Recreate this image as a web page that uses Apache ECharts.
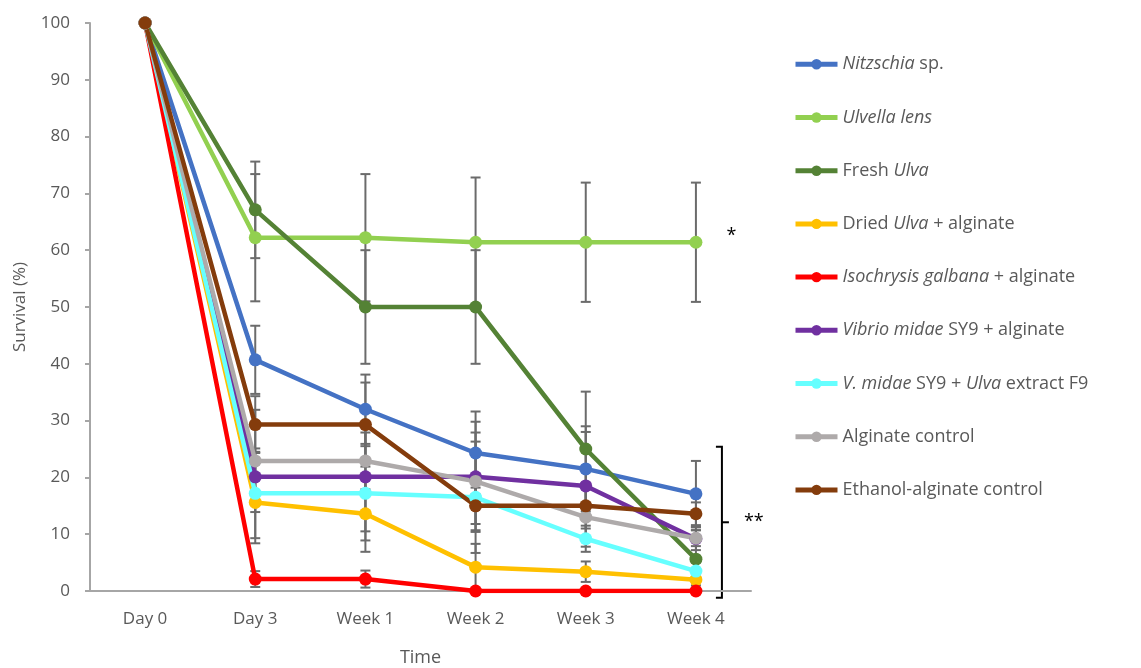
<!DOCTYPE html>
<html>
<head>
<meta charset="utf-8">
<script src="https://cdn.jsdelivr.net/npm/echarts@6/dist/echarts.min.js"></script>
<style>
  html, body { margin: 0; padding: 0; background: #fff; }
  #chart { width: 1141px; height: 668px; }
</style>
</head>
<body>
<div id="chart"></div>
<script>
// Sampling points
const timePoints = ['Day 0', 'Day 3', 'Week 1', 'Week 2', 'Week 3', 'Week 4'];

// Mean survival (%) per treatment
const nitzschia  = [100, 40.7, 32.0, 24.3, 21.5, 17.1];
const ulvella    = [100, 62.2, 62.2, 61.4, 61.4, 61.4];
const freshUlva  = [100, 67.1, 50.0, 50.0, 25.0, 5.6];
const driedUlva  = [100, 15.6, 13.6, 4.2, 3.4, 2.0];
const isochrysis = [100, 2.1, 2.1, 0, 0, 0];
const vibrio     = [100, 20.1, 20.1, 20.1, 18.5, 9.2];
const extractF9  = [100, 17.2, 17.2, 16.5, 9.2, 3.5];
const alginate   = [100, 22.9, 22.9, 19.3, 13.0, 9.3];
const ethanolAlg = [100, 29.3, 29.3, 15.0, 15.0, 13.6];

// Error magnitudes (± SE); null = no bar
const errNitzschia  = [null, 6.0, 6.1, 7.3, 7.5, 5.8];
const errUlvella    = [null, 11.2, 11.2, 11.4, 10.5, 10.5];
const errFreshUlva  = [null, 8.5, 10.0, 10.0, 10.1, 5.1];
const errDriedUlva  = [null, 7.2, 6.7, 4.1, 1.8, 1.0];
const errIsochrysis = [null, 1.4, 1.5, null, null, null];
const errVibrio     = [null, 4.4, 9.6, 9.7, 9.5, 2.0];
const errExtractF9  = [null, 7.9, 8.3, 9.8, 2.3, 1.5];
const errAlginate   = [null, 9.0, 5.0, 8.6, 5.2, 1.4];
const errEthanolAlg = [null, 5.0, 7.4, 3.2, 4.0, 2.0];

// Significance annotations
const singleMark = '*';
const groupMark = '**';
const groupRange = [25.4, -1.2];

const treatments = [
  { name: 'Nitzschia sp.',                  label: '{i|Nitzschia} sp.',                    color: '#4472C4', data: nitzschia,  err: errNitzschia },
  { name: 'Ulvella lens',                   label: '{i|Ulvella lens}',                     color: '#92D050', data: ulvella,    err: errUlvella },
  { name: 'Fresh Ulva',                     label: 'Fresh {i|Ulva}',                       color: '#548235', data: freshUlva,  err: errFreshUlva },
  { name: 'Dried Ulva + alginate',          label: 'Dried {i|Ulva} + alginate',            color: '#FFC000', data: driedUlva,  err: errDriedUlva },
  { name: 'Isochrysis galbana + alginate',  label: '{i|Isochrysis galbana} + alginate',    color: '#FF0000', data: isochrysis, err: errIsochrysis },
  { name: 'Vibrio midae SY9 + alginate',    label: '{i|Vibrio midae} SY9 + alginate',      color: '#7030A0', data: vibrio,     err: errVibrio },
  { name: 'V. midae SY9 + Ulva extract F9', label: '{i|V. midae} SY9 + {i|Ulva} extract F9', color: '#66FFFF', data: extractF9,  err: errExtractF9 },
  { name: 'Alginate control',               label: 'Alginate control',                     color: '#AEAAAA', data: alginate,   err: errAlginate },
  { name: 'Ethanol-alginate control',       label: 'Ethanol-alginate control',             color: '#843C0C', data: ethanolAlg, err: errEthanolAlg }
];

const labelByName = {};
treatments.forEach(t => { labelByName[t.name] = t.label; });

const textGrey = '#595959';
const axisGrey = '#A6A6A6';
const fontFam = '"Open Sans", "Liberation Sans", sans-serif';

// Rows for the error-bar series: [category index, mean, error]
const errorRows = [];
treatments.forEach(t => {
  t.err.forEach((e, i) => {
    if (e != null && e > 0) errorRows.push([i, t.data[i], e]);
  });
});

const lineSeries = treatments.map(t => ({
  name: t.name,
  type: 'line',
  data: t.data.map((v, i) => {
    if (t.name === 'Ulvella lens' && i === t.data.length - 1) {
      return {
        value: v,
        label: {
          show: true, formatter: singleMark, position: 'right', distance: 24,
          offset: [0, -6], color: '#000', fontSize: 18, fontFamily: fontFam
        }
      };
    }
    return v;
  }),
  color: t.color,
  symbol: 'circle',
  symbolSize: 13,
  lineStyle: { width: 4.5, color: t.color },
  itemStyle: { color: t.color },
  z: 3,
  animation: false
}));

const errorSeries = {
  name: 'SE',
  type: 'custom',
  data: errorRows,
  encode: { x: 0, y: 1 },
  z: 2,
  silent: true,
  animation: false,
  renderItem: function (params, api) {
    const xi = api.value(0), m = api.value(1), e = api.value(2);
    const top = api.coord([xi, m + e]);
    const bot = api.coord([xi, m - e]);
    const hw = 5;
    const st = { stroke: '#6B6B6B', lineWidth: 2 };
    return {
      type: 'group',
      children: [
        { type: 'line', shape: { x1: top[0], y1: top[1], x2: bot[0], y2: bot[1] }, style: st },
        { type: 'line', shape: { x1: top[0] - hw, y1: top[1], x2: top[0] + hw, y2: top[1] }, style: st },
        { type: 'line', shape: { x1: bot[0] - hw, y1: bot[1], x2: bot[0] + hw, y2: bot[1] }, style: st }
      ]
    };
  }
};

const chart = echarts.init(document.getElementById('chart'), null, { renderer: 'canvas' });

chart.setOption({
  backgroundColor: '#fff',
  animation: false,
  grid: { left: 90, right: 390, top: 23, bottom: 77, containLabel: false, outerBoundsMode: 'none' },
  legend: {
    data: treatments.map(t => t.name),
    orient: 'vertical',
    left: 788,
    top: 49,
    itemWidth: 42,
    itemHeight: 13,
    itemGap: 32.6,
    lineStyle: { width: 5 },
    formatter: name => labelByName[name],
    textStyle: {
      color: textGrey, fontSize: 18, fontFamily: fontFam, lineHeight: 20.6,
      rich: { i: { fontStyle: 'italic', color: textGrey, fontSize: 18, fontFamily: fontFam, lineHeight: 20.6 } }
    }
  },
  xAxis: {
    type: 'category',
    data: timePoints,
    boundaryGap: true,
    name: 'Time',
    nameLocation: 'middle',
    nameGap: 58,
    nameTextStyle: { color: textGrey, fontSize: 18, fontFamily: fontFam },
    axisLine: { lineStyle: { color: axisGrey, width: 2 } },
    axisTick: { show: false },
    axisLabel: { color: textGrey, fontSize: 17, fontFamily: fontFam, margin: 20 },
    splitLine: { show: false }
  },
  yAxis: {
    type: 'value',
    min: 0, max: 100, interval: 10,
    name: 'Survival (%)',
    nameLocation: 'middle',
    nameGap: 61,
    nameRotate: 90,
    nameTextStyle: { color: textGrey, fontSize: 17, fontFamily: fontFam },
    axisLine: { show: true, lineStyle: { color: axisGrey, width: 2 } },
    axisTick: { show: true, inside: false, length: 5, lineStyle: { color: axisGrey, width: 2 } },
    axisLabel: { color: textGrey, fontSize: 17, fontFamily: fontFam, margin: 20 },
    splitLine: { show: false }
  },
  series: [errorSeries].concat(lineSeries)
});

// Bracket and "**" beside the lower treatment group at the last time point
const lastIdx = timePoints.length - 1;
const pTop = chart.convertToPixel({ gridIndex: 0 }, [lastIdx, groupRange[0]]);
const pBot = chart.convertToPixel({ gridIndex: 0 }, [lastIdx, groupRange[1]]);
const bx = pTop[0] + 26;
const midY = (pTop[1] + pBot[1]) / 2;
chart.setOption({
  graphic: [
    {
      type: 'polyline',
      shape: { points: [[bx - 6, pTop[1]], [bx, pTop[1]], [bx, pBot[1]], [bx - 6, pBot[1]]] },
      style: { stroke: '#000', lineWidth: 2, fill: null }
    },
    {
      type: 'line',
      shape: { x1: bx, y1: midY, x2: bx + 7, y2: midY },
      style: { stroke: '#000', lineWidth: 2 }
    },
    {
      type: 'text',
      x: bx + 22, y: midY,
      style: { text: groupMark, fill: '#000', fontSize: 18, fontFamily: fontFam, verticalAlign: 'middle' }
    }
  ]
});
</script>
</body>
</html>
